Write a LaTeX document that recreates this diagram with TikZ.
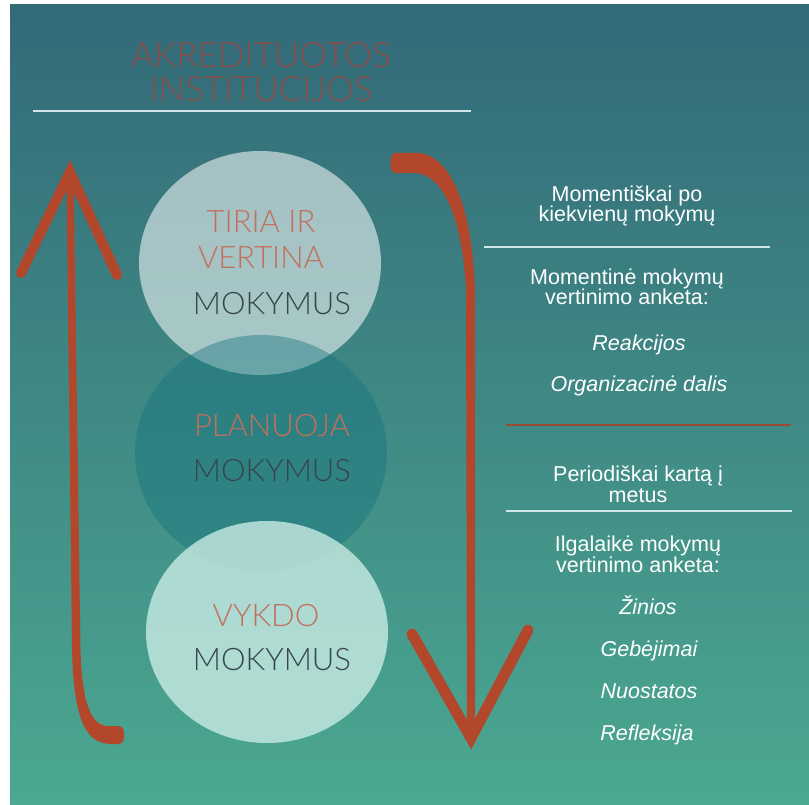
\documentclass[tikz,border=0pt]{standalone}
\usepackage{fontspec}
\setmainfont{Liberation Sans}
\newfontfamily\thinfont{Lato Light}
\usetikzlibrary{shapes.geometric}

\definecolor{bgtop}{HTML}{336A78}
\definecolor{bgbottom}{HTML}{4BA891}
\definecolor{arrowred}{HTML}{B3472B}
\definecolor{wordred}{HTML}{C46E5C}
\definecolor{titlered}{HTML}{8A4C48}
\definecolor{wordgrey}{HTML}{37464B}
\definecolor{midteal}{HTML}{14737D}
\definecolor{mint}{HTML}{C8EBE4}
\definecolor{rulered}{HTML}{9B4A38}
\definecolor{ruleblue}{HTML}{D2E6EA}

\begin{document}
\begin{tikzpicture}[x=1pt,y=-1pt,
    bubble/.style={ellipse,inner sep=0pt,minimum width=#1},
    infotext/.style={text=white,font=\fontsize{21.5}{20.5}\selectfont,align=center,inner sep=0pt,anchor=base},
    infoitem/.style={infotext,font=\fontsize{21.5}{20.5}\selectfont\itshape},
    redword/.style={text=wordred,font=\thinfont\fontsize{31}{36}\selectfont,align=center,inner sep=0pt,anchor=base},
    greyword/.style={redword,text=wordgrey},
    armline/.style={draw=arrowred,line width=10pt,line cap=round,miter limit=10}]

\def\PANELL{10}
\def\PANELT{5}

	% background
	\fill[white] (0,0) rectangle (809,805);
	\shade[top color=bgtop,bottom color=bgbottom] (\PANELL,\PANELT) rectangle (809,805);

	% title (base = last line)
	\node[redword,text=titlered,font=\thinfont\fontsize{35}{34}\selectfont] (akred) at (261,102) {AKREDITUOTOS\\INSTITUCIJOS};
	\draw[ruleblue,line width=1.5pt] (33,111) -- (471,111);

	% bubbles
	\node[bubble=242pt,minimum height=224pt,fill=white,fill opacity=0.55] (tiria) at (260,263) {};
	\node[bubble=252pt,minimum height=236pt,fill=midteal,fill opacity=0.42] (plan) at (261,453) {};
	\node[bubble=242pt,minimum height=222pt,fill=mint,fill opacity=0.8] (vykdo) at (267,632) {};

	\node[redword] (tiriaw) at (261,269) {TIRIA IR\\VERTINA};
	\node[greyword] (tiriam) at (272,315) {MOKYMUS};
	\node[redword] (planw) at (272,436) {PLANUOJA};
	\node[greyword] (planm) at (272,481) {MOKYMUS};
	\node[redword] (vykdow) at (266,626) {VYKDO};
	\node[greyword] (vykdom) at (272,670) {MOKYMUS};

	% right column
	\node[infotext] (moment) at (627,222) {Momentiškai po\\kiekvienų mokymų};
	\draw[ruleblue,line width=1.5pt] (484,247) -- (770,247);
	\node[infotext] (anketa1) at (627,305) {Momentinė mokymų\\vertinimo anketa:};
	\node[infoitem] (reak) at (639,350) {Reakcijos};
	\node[infoitem] (org) at (639,391) {Organizacinė dalis};
	\draw[rulered,line width=1.5pt] (506,425) -- (791,425);
	\node[infotext] (period) at (638,502) {Periodiškai kartą į\\metus};
	\draw[ruleblue,line width=1.5pt] (506,511) -- (792,511);
	\node[infotext] (anketa2) at (638,572) {Ilgalaikė mokymų\\vertinimo anketa:};
	\node[infoitem] (zin) at (648,614) {Žinios};
	\node[infoitem] (geb) at (649,656) {Gebėjimai};
	\node[infoitem] (nuo) at (649,698) {Nuostatos};
	\node[infoitem] (ref) at (647,740) {Refleksija};

	% up arrow
	\fill[arrowred] (66.5,172) -- (72,650) .. controls (74,722) and (86,744) .. (112,744)
		-- (119,744) .. controls (126,744) and (126,726) .. (119,726) -- (108,726)
		.. controls (92,726) and (82,705) .. (80.5,650) -- (73.5,172) -- cycle;
	\draw[armline] (21,273) -- (70,172) -- (117,275);

	% down arrow
	\fill[arrowred] (395,153) -- (418,153) .. controls (450,155) and (472,205) .. (475,290)
		-- (475,738) -- (467,738) -- (466,290) .. controls (462,215) and (442,174) .. (415,173)
		-- (395,173) .. controls (389,173) and (389,153) .. (395,153) -- cycle;
	\draw[armline,line width=11pt] (412,634) -- (471,738) -- (528,630);

\end{tikzpicture}
\end{document}
